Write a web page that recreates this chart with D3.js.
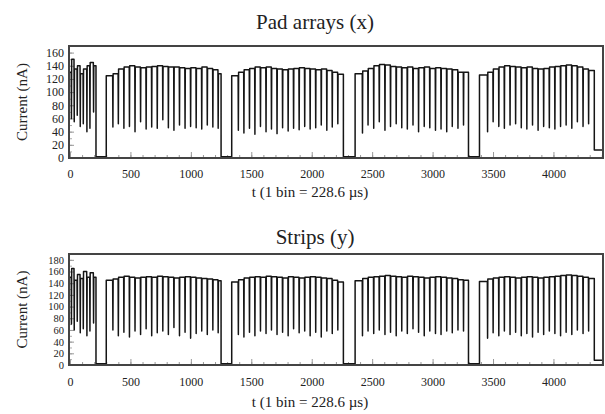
<!DOCTYPE html>
<html>
<head>
<meta charset="utf-8">
<script src="https://cdn.jsdelivr.net/npm/d3@7"></script>
<style>
  body { margin: 0; background: #fff; }
  svg text { font-family: "Liberation Serif", serif !important; fill: #222; }
</style>
</head>
<body>
<div id="chart"></div>
<script>
// beam sections (in bins): start / end of each spill
const sectionStart = [0, 300, 1338, 2359, 3388];
const sectionEnd = [215, 1250, 2262, 3297, 4338];

// time of each current dip, per section (shared by both detectors)
const dipTimes = [
    [12, 35, 60, 85, 110, 140, 165, 195],
    [355, 400, 446, 492, 538, 584, 630, 676, 722, 768, 814, 860, 906, 952, 998, 1044, 1090, 1136, 1182, 1226],
    [1393, 1439, 1485, 1530, 1576, 1622, 1667, 1713, 1759, 1805, 1850, 1896, 1942, 1987, 2033, 2079, 2125, 2170, 2216],
    [2420, 2466, 2513, 2559, 2606, 2652, 2699, 2745, 2791, 2838, 2884, 2931, 2977, 3024, 3070, 3117, 3163, 3210, 3256],
    [3455, 3501, 3548, 3594, 3641, 3687, 3734, 3780, 3827, 3873, 3919, 3966, 4012, 4059, 4105, 4152, 4198, 4245, 4291]
];

// Pad arrays (x): level before each dip, dip minimum, section end level
const padTop = [
    [130, 150, 135, 140, 128, 135, 140, 145],
    [125, 128, 135, 138, 140, 138, 137, 138, 139, 140, 139, 138, 138, 137, 136, 137, 136, 138, 136, 134],
    [125, 130, 134, 136, 138, 137, 138, 136, 135, 134, 135, 136, 137, 136, 135, 134, 135, 133, 130],
    [128, 132, 136, 140, 142, 141, 139, 138, 137, 138, 136, 137, 138, 136, 137, 136, 135, 134, 130],
    [126, 130, 135, 138, 140, 139, 138, 137, 138, 136, 135, 136, 138, 139, 140, 141, 140, 138, 135]
];
const padDip = [
    [60, 55, 65, 48, 52, 40, 45, 70],
    [47, 52, 45, 48, 40, 55, 44, 47, 45, 58, 46, 42, 50, 45, 48, 46, 44, 50, 47, 45],
    [42, 38, 45, 36, 48, 40, 44, 37, 46, 41, 45, 43, 48, 44, 46, 50, 42, 47, 52],
    [38, 50, 45, 55, 42, 48, 52, 46, 44, 50, 40, 48, 46, 42, 44, 40, 48, 45, 50],
    [40, 55, 48, 45, 50, 52, 46, 44, 50, 42, 48, 46, 44, 48, 50, 45, 55, 48, 52]
];
const padEnd = [140, 128, 127, 130, 133];
const padGap = 2;
const padTail = 12;

// Strips (y)
const stripTop = [
    [150, 165, 145, 155, 148, 160, 150, 158],
    [145, 147, 150, 152, 150, 149, 150, 151, 150, 152, 151, 150, 149, 150, 151, 150, 149, 148, 147, 146],
    [142, 146, 149, 150, 151, 150, 152, 151, 150, 149, 151, 150, 149, 150, 151, 150, 149, 148, 145],
    [144, 148, 150, 151, 152, 153, 152, 151, 150, 152, 151, 150, 149, 150, 151, 150, 149, 148, 146],
    [143, 147, 149, 150, 151, 150, 149, 150, 151, 150, 149, 150, 151, 152, 153, 154, 153, 152, 150]
];
const stripDip = [
    [70, 60, 75, 55, 62, 50, 58, 72],
    [60, 50, 56, 48, 58, 52, 62, 50, 55, 58, 52, 64, 50, 56, 46, 54, 58, 52, 60, 55],
    [52, 48, 56, 50, 58, 54, 60, 52, 56, 50, 62, 55, 58, 50, 56, 48, 58, 54, 60],
    [50, 58, 54, 60, 52, 56, 50, 58, 54, 62, 56, 50, 58, 54, 52, 58, 55, 60, 58],
    [46, 55, 50, 58, 52, 56, 50, 54, 48, 56, 52, 58, 54, 50, 56, 52, 60, 54, 58]
];
const stripEnd = [150, 144, 142, 145, 148];
const stripGap = 2;
const stripTail = 8;

const xMax = 4410;
const xMajor = d3.range(0, 4001, 500);
const xMinor = d3.range(0, 4401, 100);

const panels = [
    { title: "Pad arrays (x)", top: padTop, dip: padDip, end: padEnd, gap: padGap, tail: padTail,
      yMax: 170, yTicks: d3.range(0, 161, 20), yFont: 12, y0: 158, y1: 46, titleY: 29, tickPad: 11, labelY: 197 },
    { title: "Strips (y)", top: stripTop, dip: stripDip, end: stripEnd, gap: stripGap, tail: stripTail,
      yMax: 190, yTicks: d3.range(0, 181, 20), yFont: 10.5, y0: 365, y1: 254, titleY: 244, tickPad: 12, labelY: 407 }
];

const svg = d3.select("#chart")
    .append("svg")
    .attr("width", 605)
    .attr("height", 414);

const x = d3.scaleLinear().domain([0, xMax]).range([70, 603]);

// Build the trace: flat level, narrow dip at each pulse, square gaps between spills
function buildSeries(p) {
    const pts = [];
    sectionStart.forEach((s, k) => {
        const times = dipTimes[k];
        if (k > 0) pts.push([s, p.gap]);
        pts.push([s, p.top[k][0]]);
        times.forEach((t, i) => {
            const next = i + 1 < times.length ? p.top[k][i + 1] : p.end[k];
            pts.push([t - 2, p.top[k][i]]);
            pts.push([t, p.dip[k][i]]);
            pts.push([t + 2, next]);
        });
        pts.push([sectionEnd[k], p.end[k]]);
        pts.push([sectionEnd[k], k < sectionStart.length - 1 ? p.gap : p.tail]);
    });
    pts.push([xMax, p.tail]);
    return pts;
}

panels.forEach(p => {
    const y = d3.scaleLinear().domain([0, p.yMax]).range([p.y0, p.y1]);
    const g = svg.append("g");

    // inward minor / major ticks
    g.append("g")
        .attr("transform", `translate(0,${p.y0})`)
        .call(d3.axisBottom(x).tickValues(xMinor).tickSize(-3).tickFormat(""))
        .call(a => a.select(".domain").remove())
        .call(a => a.selectAll("line").attr("stroke", "#999"));

    g.append("g")
        .attr("transform", `translate(0,${p.y0})`)
        .call(d3.axisBottom(x).tickValues(xMajor).tickSize(-6).tickPadding(p.tickPad).tickFormat(d3.format("d")))
        .call(a => a.select(".domain").remove())
        .call(a => a.selectAll("line").attr("stroke", "#999"))
        .call(a => a.selectAll("text")
            .style("font-family", "'Liberation Serif', serif")
            .style("font-size", "12px")
            .attr("fill", "#222"));

    g.append("g")
        .attr("transform", "translate(69,0)")
        .call(d3.axisLeft(y).tickValues(d3.range(0, p.yMax + 1, 10)).tickSize(-3).tickFormat(""))
        .call(a => a.select(".domain").remove())
        .call(a => a.selectAll("line").attr("stroke", "#aaa"));

    g.append("g")
        .attr("transform", "translate(69,0)")
        .call(d3.axisLeft(y).tickValues(p.yTicks).tickSize(-5).tickPadding(5))
        .call(a => a.select(".domain").remove())
        .call(a => a.selectAll("line").attr("stroke", "#999"))
        .call(a => a.selectAll("text")
            .style("font-family", "'Liberation Serif', serif")
            .style("font-size", p.yFont + "px")
            .attr("fill", "#222"));

    const line = d3.line()
        .x(d => x(d[0]))
        .y(d => y(d[1]));

    g.append("path")
        .datum(buildSeries(p))
        .attr("fill", "none")
        .attr("stroke", "#151515")
        .attr("stroke-width", 1.5)
        .attr("stroke-linejoin", "round")
        .attr("d", line);

    // frame
    g.append("rect")
        .attr("x", 69)
        .attr("y", p.y1)
        .attr("width", 534)
        .attr("height", p.y0 - p.y1)
        .attr("fill", "none")
        .attr("stroke", "#444")
        .attr("stroke-width", 2);

    g.append("text")
        .attr("x", 315)
        .attr("y", p.titleY)
        .attr("text-anchor", "middle")
        .style("font-size", "21px")
        .text(p.title);

    g.append("text")
        .attr("x", 310)
        .attr("y", p.labelY)
        .attr("text-anchor", "middle")
        .style("font-size", "15px")
        .text("t (1 bin = 228.6 µs)");

    g.append("text")
        .attr("transform", `translate(27,${(p.y0 + p.y1) / 2}) rotate(-90)`)
        .attr("text-anchor", "middle")
        .style("font-size", "15px")
        .text("Current (nA)");
});
</script>
</body>
</html>
